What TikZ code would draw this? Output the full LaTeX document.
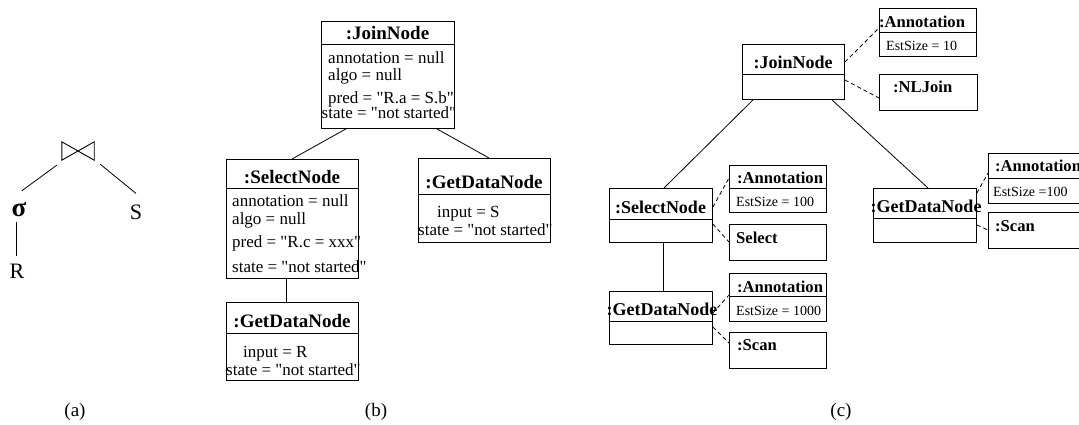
\documentclass[tikz,border=0pt]{standalone}
\usepackage{fontspec}
\setmainfont{Liberation Serif}[Ligatures=TeXOff]
\newcommand\fsz[1]{\fontsize{#1}{#1}\selectfont}
% separator line inside a class box, #2 below its top edge
\newcommand\boxsep[2]{\draw[line width=0.9pt] ([yshift=-#2pt]#1.north west) -- ([yshift=-#2pt]#1.north east);}
\begin{document}
\begin{tikzpicture}[x=1pt,y=-1pt,
  box/.style={draw,line width=0.9pt,inner sep=0pt,anchor=north west},
  ttlb/.style={font=\bfseries\fsz{19},inner sep=0pt,anchor=base},
  ttlc/.style={font=\bfseries\fsz{18},inner sep=0pt,anchor=base},
  ttls/.style={font=\bfseries\fsz{16.6},inner sep=0pt,anchor=base west},
  attr/.style={font=\fsz{17},inner sep=0pt,anchor=base west},
  est/.style={font=\fsz{14},inner sep=0pt,anchor=base west},
  sym/.style={font=\fsz{22},inner sep=0pt},
  subcap/.style={font=\fsz{19},inner sep=0pt,anchor=base},
  link/.style={line width=0.8pt},
  assoc/.style={line width=0.8pt,dash pattern=on 4pt off 3pt}]
\clip (0,0) rectangle (1079,424);
\fill[white] (0,0) rectangle (1079,424);

% ---------- (a) algebra tree ----------
\node[minimum width=32pt,minimum height=18pt,inner sep=0pt] (ra) at (78,151) {};
\draw[line width=0.9pt,line join=miter] (ra.north west) -- (ra.south west) -- (ra.north east) -- (ra.south east) -- cycle;
\node[sym,font=\bfseries\fsz{27}] (sig) at (19,210) {σ};
\node[sym] (rs) at (136,212) {S};
\node[sym] (rr) at (17,271) {R};
\draw[link] ([shift={(-5,5)}]ra.south west) -- ([shift={(3,-12)}]sig.north);
\draw[link] ([shift={(6,4)}]ra.south east) -- ([shift={(0,-11)}]rs.north);
\draw[link] ([shift={(-3,5)}]sig.south) -- ([shift={(-1,-8)}]rr.north);

% ---------- (b) plan objects ----------
\node[box,minimum width=133pt,minimum height=107pt] (bJ) at (321,21) {};
\boxsep{bJ}{23}
\node[ttlb] (bJt) at (387.5,39) {:JoinNode};
\node[attr] (bJa) at (328,63) {annotation = null};
\node[attr] (bJb) at (328,80) {algo = null};
\node[attr] (bJc) at (328,103) {pred = "R.a = S.b"};
\node[attr] (bJd) at (321.5,118) {state = "not started"};

\node[box,minimum width=132pt,minimum height=119pt] (bS) at (226,159) {};
\boxsep{bS}{29}
\node[ttlb] (bSt) at (292,183) {:SelectNode};
\node[attr] (bSa) at (232,206) {annotation = null};
\node[attr] (bSb) at (232,224) {algo = null};
\node[attr] (bSc) at (232,247) {pred = "R.c = xxx"};
\node[attr] (bSd) at (232,272) {state = "not started"};

\node[box,minimum width=132pt,minimum height=78pt] (bR) at (226,302) {};
\boxsep{bR}{31}
\node[ttlb] (bRt) at (292,327) {:GetDataNode};
\node[attr] (bRa) at (243,357) {input = R};
\node[attr] (bRb) at (226,375) {state = "not started"};

\node[box,minimum width=132pt,minimum height=84pt] (bG) at (418,158) {};
\boxsep{bG}{36}
\node[ttlb] (bGt) at (484,188) {:GetDataNode};
\node[attr] (bGa) at (437,217) {input = S};
\node[attr] (bGb) at (418,235) {state = "not started"};

\draw[link] ([xshift=25pt]bJ.south west) -- ([xshift=66pt]bS.north west);
\draw[link] ([xshift=116pt]bJ.south west) -- ([xshift=71pt]bG.north west);
\draw[link] ([xshift=60pt]bS.south west) -- ([xshift=60pt]bR.north west);

% ---------- (c) annotated plan ----------
\node[box,minimum width=102pt,minimum height=55pt] (cJ) at (742,44) {};
\boxsep{cJ}{30}
\node[ttlc] (cJt) at (793,68) {:JoinNode};

\node[box,minimum width=97pt,minimum height=48pt] (aJ) at (879,8) {};
\boxsep{aJ}{24}
\node[ttls] (aJt) at (879,27) {:Annotation};
\node[est] (aJe) at (886,50) {EstSize = 10};

\node[box,minimum width=98pt,minimum height=36pt] (nl) at (879,74) {};
\node[ttls] (nlt) at (893,92) {:NLJoin};

\node[box,minimum width=103pt,minimum height=54pt] (cS) at (609,188) {};
\boxsep{cS}{31}
\node[ttlc] (cSt) at (660.5,213) {:SelectNode};

\node[box,minimum width=97pt,minimum height=47pt] (aS) at (729,165) {};
\boxsep{aS}{23}
\node[ttls] (aSt) at (737,183) {:Annotation};
\node[est] (aSe) at (736,206) {EstSize = 100};

\node[box,minimum width=97pt,minimum height=36pt] (sl) at (729,224) {};
\node[ttls] (slt) at (736,243) {Select};

\node[box,minimum width=103pt,minimum height=53pt] (cR) at (609,291) {};
\boxsep{cR}{30}
\node[ttlc] (cRt) at (662,315) {:GetDataNode};

\node[box,minimum width=97pt,minimum height=48pt] (aR) at (729,273) {};
\boxsep{aR}{23}
\node[ttls] (aRt) at (737,292) {:Annotation};
\node[est] (aRe) at (736,315) {EstSize = 1000};

\node[box,minimum width=97pt,minimum height=36pt] (sR) at (729,332) {};
\node[ttls] (sRt) at (737,350) {:Scan};

\node[box,minimum width=103pt,minimum height=54pt] (cG) at (873,188) {};
\boxsep{cG}{30}
\node[ttlc] (cGt) at (926,212) {:GetDataNode};

\node[box,minimum width=110pt,minimum height=50pt] (aG) at (988,153) {};
\boxsep{aG}{25}
\node[ttls] (aGt) at (995,171) {:Annotation};
\node[est] (aGe) at (993,196) {EstSize =100};

\node[box,minimum width=110pt,minimum height=36pt] (sG) at (988,212) {};
\node[ttls] (sGt) at (995,231) {:Scan};

\draw[link] ([xshift=11pt]cJ.south west) -- ([xshift=55pt]cS.north west);
\draw[link] ([xshift=90pt]cJ.south west) -- ([xshift=55pt]cG.north west);
\draw[link] ([xshift=54pt]cS.south west) -- ([xshift=54pt]cR.north west);

\draw[assoc] ([yshift=-18pt]cJ.north east) -- ([yshift=-20pt]aJ.north west);
\draw[assoc] ([yshift=-36pt]cJ.north east) -- ([yshift=-24pt]nl.north west);
\draw[assoc] ([yshift=-19pt]cS.north east) -- ([yshift=-13pt]aS.north west);
\draw[assoc] ([yshift=-36pt]cS.north east) -- ([yshift=-18pt]sl.north west);
\draw[assoc] ([yshift=-22pt]cR.north east) -- ([yshift=-22pt]aR.north west);
\draw[assoc] ([yshift=-36pt]cR.north east) -- ([yshift=-11pt]sR.north west);
\draw[assoc] ([yshift=-5pt]cG.north east) -- ([yshift=-20pt]aG.north west);
\draw[assoc] ([yshift=-37pt]cG.north east) -- ([yshift=-18pt]sG.north west);

% ---------- captions ----------
\node[subcap] (la) at (75,416) {(a)};
\node[subcap] (lb) at (376,416) {(b)};
\node[subcap] (lc) at (841,416) {(c)};
\end{tikzpicture}
\end{document}
